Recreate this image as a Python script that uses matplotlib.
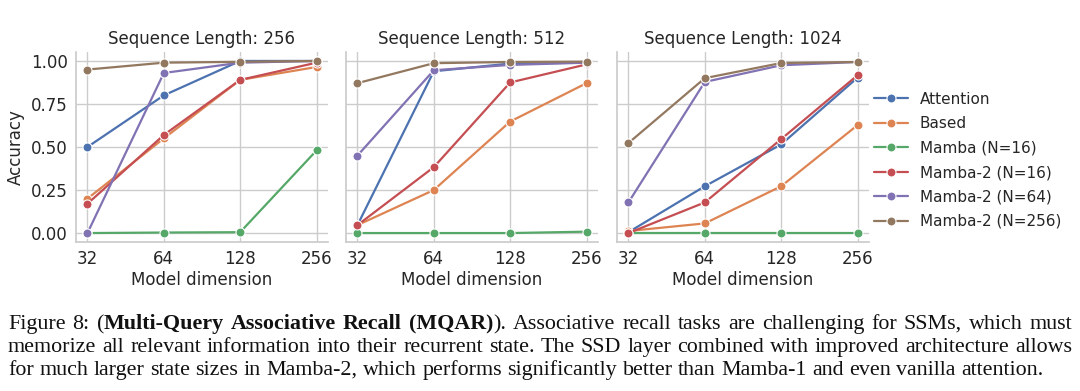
import numpy as np
import matplotlib
matplotlib.use("Agg")
import matplotlib.pyplot as plt
import seaborn as sns

# ---- data ----
dims = [32, 64, 128, 256]
seq_lengths = [256, 512, 1024]
models = ["Attention", "Based", "Mamba (N=16)", "Mamba-2 (N=16)",
          "Mamba-2 (N=64)", "Mamba-2 (N=256)"]

acc_256 = {
    "Attention":       [0.50, 0.80, 1.00, 1.00],
    "Based":           [0.20, 0.55, 0.89, 0.965],
    "Mamba (N=16)":    [0.00, 0.003, 0.005, 0.48],
    "Mamba-2 (N=16)":  [0.17, 0.57, 0.89, 0.99],
    "Mamba-2 (N=64)":  [0.00, 0.93, 0.99, 1.00],
    "Mamba-2 (N=256)": [0.95, 0.99, 0.995, 1.00],
}
acc_512 = {
    "Attention":       [0.046, 0.94, 0.985, 0.99],
    "Based":           [0.046, 0.25, 0.648, 0.871],
    "Mamba (N=16)":    [0.00, 0.00, 0.00, 0.008],
    "Mamba-2 (N=16)":  [0.046, 0.383, 0.875, 0.98],
    "Mamba-2 (N=64)":  [0.45, 0.946, 0.977, 0.99],
    "Mamba-2 (N=256)": [0.871, 0.987, 0.994, 0.996],
}
acc_1024 = {
    "Attention":       [0.005, 0.272, 0.515, 0.903],
    "Based":           [0.012, 0.056, 0.272, 0.627],
    "Mamba (N=16)":    [0.00, 0.00, 0.00, 0.00],
    "Mamba-2 (N=16)":  [0.00, 0.178, 0.546, 0.917],
    "Mamba-2 (N=64)":  [0.178, 0.878, 0.975, 0.994],
    "Mamba-2 (N=256)": [0.523, 0.90, 0.988, 0.994],
}
panels = [acc_256, acc_512, acc_1024]

caption_lines = [
    "Figure 8: (**Multi-Query Associative Recall (MQAR)**). Associative recall tasks are challenging for SSMs, which must",
    "memorize all relevant information into their recurrent state. The SSD layer combined with improved architecture allows",
    "for much larger state sizes in Mamba-2, which performs significantly better than Mamba-1 and even vanilla attention.",
]

sns.set_theme(style="whitegrid")
plt.rcParams["font.family"] = ["DejaVu Sans"]
colors = sns.color_palette("deep", len(models))

W, H = 1080, 391
fig = plt.figure(figsize=(W / 100, H / 100), dpi=100)

lefts = [76, 346, 617]
ax_w, top, bottom = 252, 52, 242
axes = []
for i, (acc, L) in enumerate(zip(panels, seq_lengths)):
    ax = fig.add_axes([lefts[i] / W, 1 - bottom / H, ax_w / W, (bottom - top) / H])
    for m, c in zip(models, colors):
        ax.plot(dims, acc[m], color=c, lw=1.6, marker="o", ms=6.5,
                mec="white", mew=0.8, label=m)
    ax.set_xscale("log", base=2)
    ax.set_xticks(dims)
    ax.set_xticklabels([str(d) for d in dims])
    ax.minorticks_off()
    ax.set_xlim(32 / 2 ** 0.15, 256 * 2 ** 0.15)
    ax.set_ylim(-0.052, 1.052)
    ax.set_yticks([0, 0.25, 0.5, 0.75, 1.0])
    if i == 0:
        ax.set_yticklabels(["0.00", "0.25", "0.50", "0.75", "1.00"])
        ax.set_ylabel("Accuracy", fontsize=12)
    else:
        ax.set_yticklabels([])
    ax.tick_params(labelsize=12, length=0, pad=6)
    ax.set_xlabel("Model dimension", fontsize=12, labelpad=2)
    ax.set_title(f"Sequence Length: {L}", fontsize=12, pad=6)
    sns.despine(ax=ax)
    for s in ["left", "bottom"]:
        ax.spines[s].set_color("#cccccc")
    axes.append(ax)

axes[2].legend(loc="center left", bbox_to_anchor=(0.965, 0.43), frameon=False,
               fontsize=11, handlelength=2.2, labelspacing=0.62)

# ---- caption, justified word by word ----
renderer = fig.canvas.get_renderer()
cap_x0, cap_x1 = 8, 1072
baselines = [329, 352, 375]
cap_size = 15.8
cap_font = "Liberation Serif"


def parse_words(line):
    words = []
    bold = False
    for w in line.split(" "):
        segs = []
        parts = w.split("**")
        for k, p in enumerate(parts):
            if k > 0:
                bold = not bold
            if p:
                segs.append((p, bold))
        words.append(segs)
    return words


def text_width(s):
    t = fig.text(0, 0, s, family=cap_font, fontsize=cap_size)
    wpx = t.get_window_extent(renderer).width
    t.remove()
    return wpx


space_px = text_width("a b") - text_width("ab")

for li, line in enumerate(caption_lines):
    words = parse_words(line)
    y = 1 - baselines[li] / H
    items = []
    widths = []
    for segs in words:
        wtot = 0
        group = []
        for txt, b in segs:
            t = fig.text(0, y, txt, family=cap_font, fontsize=cap_size,
                         weight="bold" if b else "normal", va="baseline",
                         ha="left", color="#111111")
            wpx = t.get_window_extent(renderer).width
            group.append((t, wpx))
            wtot += wpx
        items.append(group)
        widths.append(wtot)
    total = sum(widths)
    if li < len(caption_lines) - 1:
        gap = (cap_x1 - cap_x0 - total) / (len(items) - 1)
    else:
        gap = space_px
    x = cap_x0
    for group, wtot in zip(items, widths):
        xx = x
        for t, wpx in group:
            t.set_x(xx / W)
            xx += wpx
        x += wtot + gap

fig.savefig("out.png", dpi=100)
